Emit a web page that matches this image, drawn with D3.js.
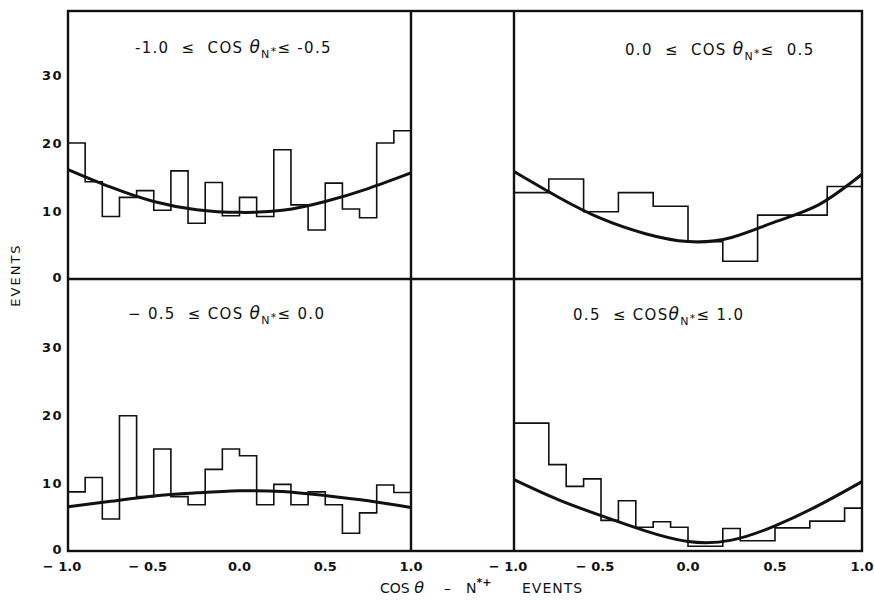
<!DOCTYPE html>
<html>
<head>
<meta charset="utf-8">
<script src="https://cdn.jsdelivr.net/npm/d3@7"></script>
<style>
  body { margin: 0; background: #fff; }
  text { font-family: "DejaVu Sans", sans-serif; fill: #111; white-space: pre; }
</style>
</head>
<body>
<div id="chart"></div>
<script>
const width = 874;
const height = 600;

// histogram contents (events per bin)
const binsTL = [20.0, 14.3, 9.2, 12.0, 13.0, 10.1, 15.9, 8.2, 14.2, 9.3,
                12.0, 9.2, 19.0, 10.9, 7.2, 14.1, 10.3, 9.0, 20.0, 21.8];
const binsTR = [12.7, 14.7, 9.9, 12.7, 10.7, 5.5, 2.6, 9.4, 9.4, 13.6];
const binsBL = [8.7, 10.8, 4.7, 19.9, 8.0, 15.0, 8.0, 6.8, 12.0, 15.0,
                14.0, 6.8, 9.8, 6.8, 8.7, 6.8, 2.6, 5.6, 9.7, 8.6];
const binsBR = [18.8, 18.8, 12.7, 9.5, 10.6, 4.5, 7.4, 3.5, 4.3, 3.5,
                0.7, 0.7, 3.3, 1.5, 1.5, 3.4, 3.4, 4.4, 4.4, 6.3];

// fitted curves, read at these cos(theta) values
const curveX  = [-1, -0.75, -0.5, -0.25, 0, 0.25, 0.5, 0.75, 1];
const curveTL = [16.1, 13.5, 11.4, 10.2, 9.8, 10.1, 11.4, 13.3, 15.6];
const curveTR = [15.8, 12.1, 8.9, 6.7, 5.5, 6.1, 8.4, 10.9, 15.4];
const curveBL = [6.5, 7.3, 8.1, 8.55, 8.85, 8.75, 8.15, 7.4, 6.4];
const curveBR = [10.5, 7.6, 5.2, 3.0, 1.4, 1.6, 3.7, 6.7, 10.2];

const xTicks = [-1, -0.5, 0, 0.5, 1];
const yTicks = [0, 10, 20, 30];

const titles = [
    {lo: "-1.0  ≤  COS ", hi: "≤ -0.5"},
    {lo: "0.0  ≤  COS ", hi: "≤  0.5"},
    {lo: "− 0.5  ≤ COS ", hi: "≤ 0.0"},
    {lo: "0.5  ≤ COS", hi: "≤ 1.0"}
];

// frame layout
const L = {x0: 68, x1: 411}, R = {x0: 514, x1: 862};
const T = {y0: 279, y1: 11}, B = {y0: 551, y1: 279};

const svg = d3.select("#chart")
    .append("svg")
    .attr("width", width)
    .attr("height", height);

const panels = [
    {cols: L, rows: T, bins: binsTL, curve: curveTL, title: titles[0], tx: 135, ty: 53, yLabels: true, xLabels: false},
    {cols: R, rows: T, bins: binsTR, curve: curveTR, title: titles[1], tx: 625, ty: 55, yLabels: false, xLabels: false},
    {cols: L, rows: B, bins: binsBL, curve: curveBL, title: titles[2], tx: 128, ty: 319, yLabels: true, xLabels: true},
    {cols: R, rows: B, bins: binsBR, curve: curveBR, title: titles[3], tx: 573, ty: 320, yLabels: false, xLabels: true}
];

const pxPerEvent = 6.8;

panels.forEach(p => {
    const x = d3.scaleLinear().domain([-1, 1]).range([p.cols.x0, p.cols.x1]);
    const y = d3.scaleLinear()
        .domain([0, (p.rows.y0 - p.rows.y1) / pxPerEvent])
        .range([p.rows.y0, p.rows.y1]);

    const g = svg.append("g");

    // histogram as a step line
    const n = p.bins.length;
    const steps = p.bins.map((v, i) => [-1 + i * 2 / n, v]);
    steps.push([1, p.bins[n - 1]]);
    g.append("path")
        .attr("d", d3.line().x(d => x(d[0])).y(d => y(d[1])).curve(d3.curveStepAfter)(steps))
        .attr("fill", "none")
        .attr("stroke", "#111")
        .attr("stroke-width", 1.6);

    // fitted curve
    g.append("path")
        .attr("d", d3.line().x((d, i) => x(curveX[i])).y(d => y(d)).curve(d3.curveNatural)(p.curve))
        .attr("fill", "none")
        .attr("stroke", "#111")
        .attr("stroke-width", 3);

    // panel title
    const t = g.append("text")
        .attr("x", p.tx)
        .attr("y", p.ty)
        .attr("font-size", 15)
        .attr("letter-spacing", 1.3);
    t.append("tspan").text(p.title.lo);
    t.append("tspan").attr("font-style", "italic").attr("font-size", 17).text("θ");
    t.append("tspan").attr("font-size", 11).attr("dy", 5).text("N");
    t.append("tspan").attr("font-size", 11).attr("dy", -3).text("*");
    t.append("tspan").attr("dy", -2).text(p.title.hi);

    if (p.yLabels) {
        g.selectAll(".ylab")
            .data(yTicks)
            .enter()
            .append("text")
            .attr("x", 63)
            .attr("y", d => y(d) - (d === 0 ? 2 : 0))
            .attr("dy", "0.35em")
            .attr("text-anchor", "end")
            .attr("font-size", 13)
            .attr("font-weight", "bold")
            .attr("letter-spacing", 1.5)
            .text(d => d);
    }

    if (p.xLabels) {
        g.selectAll(".xlab")
            .data(xTicks)
            .enter()
            .append("text")
            .attr("x", d => x(d) + (d < 0 ? -6 : 0))
            .attr("y", 571)
            .attr("text-anchor", "middle")
            .attr("font-size", 13)
            .attr("font-weight", "bold")
            .text(d => (d < 0 ? "− " : "") + Math.abs(d).toFixed(1));
    }
});

// frame: outer box, the middle row line and the two inner column lines
const frame = svg.append("g")
    .attr("fill", "none")
    .attr("stroke", "#111")
    .attr("stroke-width", 2.4);
frame.append("rect")
    .attr("x", L.x0).attr("y", T.y1)
    .attr("width", R.x1 - L.x0).attr("height", B.y0 - T.y1);
frame.append("line").attr("x1", L.x0).attr("x2", R.x1).attr("y1", T.y0).attr("y2", T.y0);
frame.append("line").attr("x1", L.x1).attr("x2", L.x1).attr("y1", T.y1).attr("y2", B.y0);
frame.append("line").attr("x1", R.x0).attr("x2", R.x0).attr("y1", T.y1).attr("y2", B.y0);

// axis titles
svg.append("text")
    .attr("transform", "translate(20,275) rotate(-90)")
    .attr("text-anchor", "middle")
    .attr("font-size", 13)
    .attr("letter-spacing", 2)
    .text("EVENTS");

const xt = svg.append("text")
    .attr("y", 593)
    .attr("font-size", 14);
xt.append("tspan").attr("x", 380).text("COS ");
xt.append("tspan").attr("font-style", "italic").attr("font-size", 16).text("θ");
xt.append("tspan").attr("x", 444).text("–");
xt.append("tspan").attr("x", 466).text("N");
xt.append("tspan").attr("font-size", 11).attr("font-weight", "bold").attr("dy", -7).text("*+");
xt.append("tspan").attr("x", 522).attr("dy", 7).attr("letter-spacing", 1).text("EVENTS");
</script>
</body>
</html>
